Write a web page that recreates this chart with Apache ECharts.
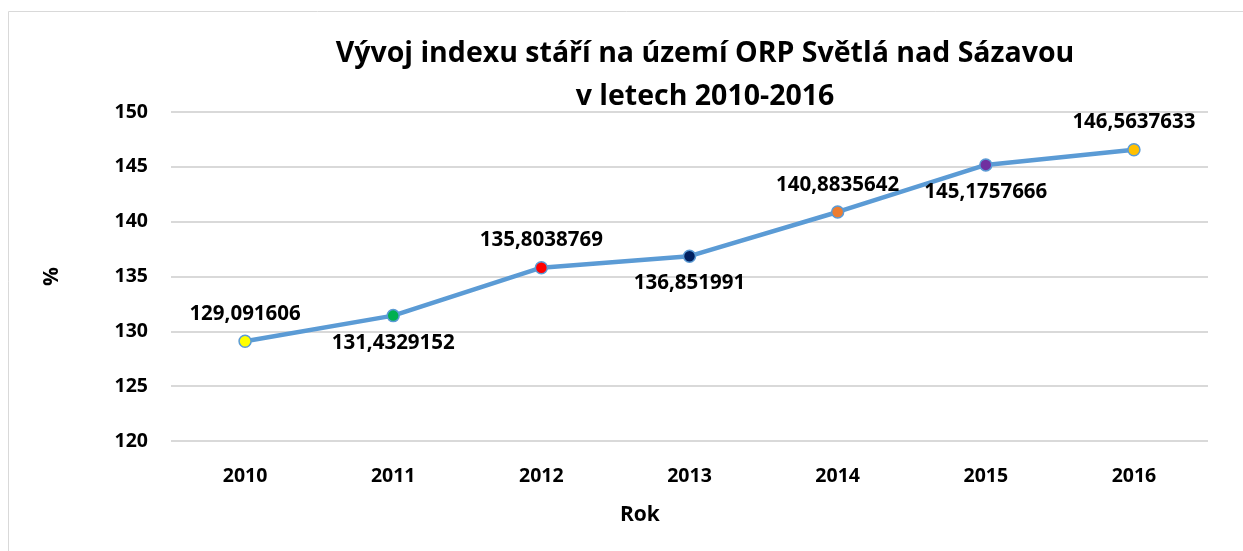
<!DOCTYPE html>
<html>
<head>
<meta charset="utf-8">
<script src="https://cdn.jsdelivr.net/npm/echarts@6/dist/echarts.min.js"></script>
<style>
  html, body { margin: 0; padding: 0; background: #fff; }
  #chart { width: 1243px; height: 551px; }
</style>
</head>
<body>
<div id="chart"></div>
<script>
// data
const years = ["2010", "2011", "2012", "2013", "2014", "2015", "2016"];
const values = [129.091606, 131.4329152, 135.8038769, 136.851991, 140.8835642, 145.1757666, 146.5637633];
const labels = ["129,091606", "131,4329152", "135,8038769", "136,851991", "140,8835642", "145,1757666", "146,5637633"];
const labelPos = ["top", "bottom", "top", "bottom", "top", "bottom", "top"];
const pointColors = ["#FFFF00", "#00B050", "#FF0000", "#002060", "#ED7D31", "#7030A0", "#FFC000"];

const font = "'Open Sans', 'Noto Sans', sans-serif";

var myChart = echarts.init(document.getElementById("chart"));
var option = {
  animation: false,
  textStyle: { fontFamily: font },
  title: {
    text: "Vývoj indexu stáří na území ORP Světlá nad Sázavou\nv letech 2010-2016",
    left: 700,
    textAlign: "center",
    top: 27,
    textStyle: { fontSize: 28.5, fontWeight: "bold", color: "#000", lineHeight: 43, fontFamily: font }
  },
  graphic: [
    {
      type: "rect",
      shape: { x: 8.5, y: 11.5, width: 1260, height: 560 },
      style: { fill: "none", stroke: "#d9d9d9", lineWidth: 1 },
      silent: true
    },
    {
      // axis title sits left of the plot centre in the original
      type: "text",
      left: 620,
      top: 505,
      style: { text: "Rok", fontSize: 21, fontWeight: "bold", fill: "#000", fontFamily: font }
    }
  ],
  grid: { left: 171, right: 35, top: 112, bottom: 110 },
  xAxis: {
    type: "category",
    data: years,
    boundaryGap: true,
    axisLine: { show: false },
    axisTick: { show: false },
    axisLabel: { fontSize: 19.5, fontWeight: "bold", color: "#000", margin: 25 }
  },
  yAxis: {
    type: "value",
    min: 120,
    max: 150,
    interval: 5,
    name: "%",
    nameLocation: "middle",
    nameGap: 108,
    nameRotate: 90,
    nameTextStyle: { fontSize: 21, fontWeight: "bold", color: "#000" },
    axisLine: { show: false },
    axisTick: { show: false },
    axisLabel: { fontSize: 19.5, fontWeight: "bold", color: "#000", margin: 23 },
    splitLine: { lineStyle: { color: "#d9d9d9", width: 2 } }
  },
  series: [
    {
      type: "line",
      data: values.map((v, i) => ({
        value: v,
        itemStyle: { color: pointColors[i], borderColor: "#5B9BD5", borderWidth: 1.5 },
        label: { position: labelPos[i], formatter: labels[i] }
      })),
      symbol: "circle",
      symbolSize: 12,
      lineStyle: { color: "#5B9BD5", width: 4.5 },
      label: {
        show: true,
        fontSize: 20.5,
        fontWeight: "bold",
        color: "#000",
        distance: 10
      }
    }
  ]
};
myChart.setOption(option);
</script>
</body>
</html>
